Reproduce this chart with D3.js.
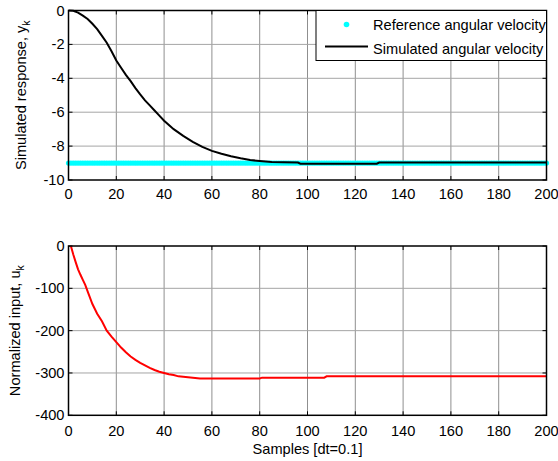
<!DOCTYPE html>
<html>
<head>
<meta charset="utf-8">
<script src="https://cdn.jsdelivr.net/npm/d3@7"></script>
<style>
  body { margin: 0; background: #fff; }
  svg text { font-family: "Liberation Sans", Arial, sans-serif; font-size: 14.6px; fill: #000; }
</style>
</head>
<body>
<div class="chartHolder"></div>
<script>
// x ticks shared by both panels
var xTicks = [0, 20, 40, 60, 80, 100, 120, 140, 160, 180, 200];
var yTicksTop = [0, -2, -4, -6, -8, -10];
var yTicksBot = [0, -100, -200, -300, -400];

// reference angular velocity: a dot at every sample
var refSamples = d3.range(0, 201);
var refValue = -9;

// simulated angular velocity [sample, value]
var simSamples = [0, 2, 4, 6, 8, 10, 12, 14, 16, 18, 20, 22, 24, 26, 28, 30, 32, 34, 36, 38, 40,
  44, 48, 52, 56, 60, 64, 68, 72, 76, 80, 85, 90, 96, 97, 129, 130, 200];
var simValues = [0, -0.02, -0.12, -0.3, -0.5, -0.78, -1.1, -1.5, -1.9, -2.4, -2.95, -3.38, -3.8, -4.17, -4.58, -4.95, -5.3, -5.6, -5.9, -6.2, -6.5,
  -7.0, -7.4, -7.75, -8.05, -8.28, -8.45, -8.6, -8.72, -8.82, -8.88, -8.94, -8.96, -8.97, -9.04, -9.04, -8.97, -8.97];

// normalized input
var inSamples = [1, 2, 3, 4, 5, 6, 7, 8, 10, 12, 14, 16, 18, 20, 22, 24, 26, 28, 30, 32, 34, 36, 38, 40,
  42, 44, 46, 50, 55, 80, 81, 107, 108, 200];
var inValues = [0, -20, -38, -55, -68, -80, -92, -107, -137, -160, -178, -200, -214, -227, -240, -251, -261, -269, -276, -282, -288, -293, -297, -300,
  -303, -305, -308, -310, -313, -313, -311, -311, -308, -308];

var svgW = 558, svgH = 461;
var left = 68.5, right = 546.5;

var svg = d3.select(".chartHolder").append("svg").attr("width", svgW).attr("height", svgH);

var xScale = d3.scaleLinear().domain([0, 200]).range([left, right]);

function panel(top, bottom, yDomain, yTicks, tickLabelY) {
  var yScale = d3.scaleLinear().domain(yDomain).range([bottom, top]);
  var g = svg.append("g");

  // grid
  g.selectAll(".vgrid").data(xTicks.slice(1, -1)).enter().append("line")
    .attr("x1", function (d) { return xScale(d); }).attr("x2", function (d) { return xScale(d); })
    .attr("y1", top).attr("y2", bottom)
    .style("stroke", "#8f8f8f").style("stroke-width", 1);
  g.selectAll(".hgrid").data(yTicks.slice(1, -1)).enter().append("line")
    .attr("y1", function (d) { return yScale(d); }).attr("y2", function (d) { return yScale(d); })
    .attr("x1", left).attr("x2", right)
    .style("stroke", "#a5a5a5").style("stroke-width", 1);

  // inside ticks on all four sides
  var tl = 4;
  xTicks.forEach(function (d) {
    g.append("line").attr("x1", xScale(d)).attr("x2", xScale(d)).attr("y1", bottom).attr("y2", bottom - tl).style("stroke", "#000");
    g.append("line").attr("x1", xScale(d)).attr("x2", xScale(d)).attr("y1", top).attr("y2", top + tl).style("stroke", "#000");
  });
  yTicks.forEach(function (d) {
    g.append("line").attr("x1", left).attr("x2", left + tl).attr("y1", yScale(d)).attr("y2", yScale(d)).style("stroke", "#000");
    g.append("line").attr("x1", right).attr("x2", right - tl).attr("y1", yScale(d)).attr("y2", yScale(d)).style("stroke", "#000");
  });

  // tick labels
  g.selectAll(".xl").data(xTicks).enter().append("text")
    .attr("x", function (d) { return xScale(d); }).attr("y", tickLabelY)
    .attr("text-anchor", "middle").text(function (d) { return d; });
  g.selectAll(".yl").data(yTicks).enter().append("text")
    .attr("x", left - 4).attr("y", function (d) { return yScale(d) + 5; })
    .attr("text-anchor", "end").text(function (d) { return d; });

  return { g: g, y: yScale, top: top, bottom: bottom };
}

function box(p) {
  p.g.append("rect").attr("x", left).attr("y", p.top).attr("width", right - left).attr("height", p.bottom - p.top)
    .style("fill", "none").style("stroke", "#000").style("stroke-width", 1.5);
}

// ---- top panel
var p1 = panel(10.5, 180, [-10, 0], yTicksTop, 199);

p1.g.selectAll(".ref").data(refSamples).enter().append("circle")
  .attr("cx", function (d) { return xScale(d); }).attr("cy", p1.y(refValue))
  .attr("r", 2.6).style("fill", "#00ffff");

var simLine = d3.line()
  .x(function (d, i) { return xScale(simSamples[i]); })
  .y(function (d) { return p1.y(d); });
p1.g.append("path").datum(simValues).attr("d", simLine)
  .style("fill", "none").style("stroke", "#000").style("stroke-width", 2);

box(p1);

// legend
var lg = p1.g.append("g");
lg.append("rect").attr("x", 316).attr("y", 10.5).attr("width", right - 316).attr("height", 50)
  .style("fill", "#fff").style("stroke", "#000").style("stroke-width", 1);
lg.append("circle").attr("cx", 346.5).attr("cy", 24.5).attr("r", 2.8).style("fill", "#00ffff");
lg.append("line").attr("x1", 325).attr("x2", 368).attr("y1", 46.5).attr("y2", 46.5)
  .style("stroke", "#000").style("stroke-width", 2);
lg.append("text").attr("x", 373).attr("y", 30).text("Reference angular velocity");
lg.append("text").attr("x", 373).attr("y", 53.5).text("Simulated angular velocity");

// ---- bottom panel
var p2 = panel(246, 415.3, [-400, 0], yTicksBot, 435.5);

var inLine = d3.line()
  .x(function (d, i) { return xScale(inSamples[i]); })
  .y(function (d) { return p2.y(d); });
p2.g.append("path").datum(inValues).attr("d", inLine)
  .style("fill", "none").style("stroke", "#ff0000").style("stroke-width", 2);

box(p2);

// axis titles
var t1 = svg.append("text").attr("transform", "translate(26," + (10.5 + 180) / 2 + ") rotate(-90)")
  .attr("text-anchor", "middle");
t1.append("tspan").text("Simulated response, y");
t1.append("tspan").attr("dy", 4).style("font-size", "10.5px").text("k");

var t2 = svg.append("text").attr("transform", "translate(19.5," + (246 + 415.3) / 2 + ") rotate(-90)")
  .attr("text-anchor", "middle");
t2.append("tspan").text("Normalized input, u");
t2.append("tspan").attr("dy", 4).style("font-size", "10.5px").text("k");

svg.append("text").attr("x", (left + right) / 2).attr("y", 454).attr("text-anchor", "middle")
  .text("Samples [dt=0.1]");
</script>
</body>
</html>
